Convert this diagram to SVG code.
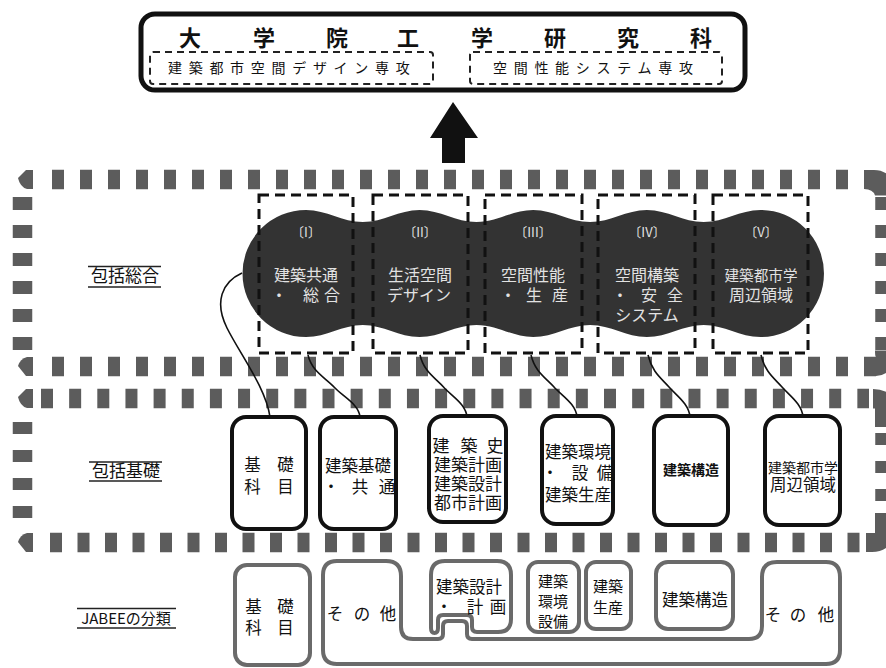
<svg xmlns="http://www.w3.org/2000/svg" width="886" height="668" viewBox="0 0 886 668">
<style>
.band{fill:none;stroke:#5c5c5c;stroke-width:19.5}
.wedge{fill:#5c5c5c}
.mid{fill:#fff;stroke:#111;stroke-width:4}
.jab{fill:#fff;stroke:#6a6a6a;stroke-width:4}
.dbox{fill:none;stroke:#111;stroke-width:3;stroke-dasharray:10 6}
.sbox{fill:none;stroke:#222;stroke-width:2;stroke-dasharray:7 5}
.conn{fill:none;stroke:#111;stroke-width:1.6}
.t{font-family:"Noto Sans CJK JP","Noto Sans",sans-serif;text-anchor:middle;fill:#111}
.w{fill:#e2e2e2}
.ul{stroke:#222;stroke-width:1.6}
</style>
<rect width="886" height="668" fill="#fff"/>

<!-- Dashed bands -->
<g id="band-sogo">
  <line class="band" x1="52" y1="179.5" x2="848" y2="179.5" stroke-dasharray="12 16"/>
  <line class="band" x1="52" y1="366.5" x2="876" y2="366.5" stroke-dasharray="12 16"/>
  <line class="band" x1="22.5" y1="197" x2="22.5" y2="350" stroke-width="21" stroke-dasharray="13 15"/>
  <line class="band" x1="885" y1="197" x2="885" y2="350" stroke-width="21" stroke-dasharray="13 15"/>
  <path class="wedge" d="M33,170 H26 L18,178 Q20,187 27,189 H33 Z"/>
  <path class="wedge" d="M33,357 H27 Q20,359 18,366 L26,376 H33 Z"/>
  <path class="wedge" d="M864,170 H874 Q889,170 895,185.5 V195.5 H875 Q873,189 864,189 Z"/>
  <path class="wedge" d="M876,376 Q889,376 895,360.5 V350.5 H875 Q875,357 876,357 Z"/>
</g>
<g id="band-kiso">
  <line class="band" x1="41" y1="398.5" x2="869" y2="398.5" stroke-dasharray="12 16.15"/>
  <line class="band" x1="50" y1="542.5" x2="860" y2="542.5" stroke-dasharray="12 15.5"/>
  <line class="band" x1="22.5" y1="422" x2="22.5" y2="518" stroke-width="21" stroke-dasharray="12 16"/>
  <line class="band" x1="885" y1="433" x2="885" y2="501" stroke-width="21" stroke-dasharray="12 16"/>
  <path class="wedge" d="M33,389 H26 L18,397 Q20,406 27,408 H33 Z"/>
  <path class="wedge" d="M33,533 H27 Q20,535 18,542 L26,552 H33 Z"/>
  <path class="wedge" d="M873,389 Q886,389 895,398 V427 H875 V408.5 H873 Z"/>
  <path class="wedge" d="M875,513 H895 V535 Q889,552 872,552 H866 V533 H875 Z"/>
</g>

<!-- Top box -->
<g id="graduate">
  <rect x="141" y="14" width="604" height="76" rx="14" fill="#fff" stroke="#111" stroke-width="5"/>
  <text class="t" x="190 264 337 408 482 555 628 701" y="45.5" font-size="22" font-weight="bold">大学院工学研究科</text>
  <rect class="sbox" x="150" y="52" width="283" height="32" rx="3"/>
  <rect class="sbox" x="470" y="52" width="252" height="32" rx="3"/>
  <text class="t" x="168" y="73.3" font-size="14" letter-spacing="6.7" style="text-anchor:start">建築都市空間デザイン専攻</text>
  <text class="t" x="493" y="73.3" font-size="14" letter-spacing="6.7" style="text-anchor:start">空間性能システム専攻</text>
</g>
<g id="arrow">
  <polygon points="453,102 478,138 465,138 465,163 442,163 442,138 430,138" fill="#111"/>
</g>

<!-- Blob -->
<g id="blob">
  <path fill="#333" d="M306,210 C327,210 341.8,222 362.8,222 S398.6,210 419.6,210 S455.4,222 476.4,222 S512.2,210 533.2,210 S569.1,222 590.1,222 S625.9,210 646.9,210 S682.7,222 703.7,222 S739.5,210 760.5,210 A63.5,63.5 0 0 1 760.5,337 C739.5,337 724.7,325 703.7,325 S667.9,337 646.9,337 S611.1,325 590.1,325 S554.2,337 533.2,337 S497.4,325 476.4,325 S440.6,337 419.6,337 S383.8,325 362.8,325 S327,337 306,337 A63.5,63.5 0 0 1 306,210 Z"/>
</g>
<g id="area-1">
  <rect class="dbox" x="259" y="195" width="94" height="158"/>
  <text class="t w" x="306" y="237" font-size="13">〔I〕</text>
  <text class="t w" x="306" y="280.8" font-size="16">建築共通</text>
  <text class="t w" x="279 311 332" y="300.8" font-size="16">・総合</text>
</g>
<g id="area-2">
  <rect class="dbox" x="373" y="195" width="95" height="158"/>
  <text class="t w" x="420" y="237" font-size="13">〔II〕</text>
  <text class="t w" x="420" y="280.8" font-size="16">生活空間</text>
  <text class="t w" x="419" y="300.8" font-size="16">デザイン</text>
</g>
<g id="area-3">
  <rect class="dbox" x="485" y="195" width="97" height="158"/>
  <text class="t w" x="533" y="237" font-size="13">〔III〕</text>
  <text class="t w" x="533" y="280.8" font-size="16">空間性能</text>
  <text class="t w" x="508 534 560" y="300.8" font-size="16">・生産</text>
</g>
<g id="area-4">
  <rect class="dbox" x="598" y="195" width="97" height="158"/>
  <text class="t w" x="647" y="237" font-size="13">〔IV〕</text>
  <text class="t w" x="647" y="280.8" font-size="16">空間構築</text>
  <text class="t w" x="620 649 675" y="300.8" font-size="16">・安全</text>
  <text class="t w" x="647" y="320.8" font-size="16">システム</text>
</g>
<g id="area-5">
  <rect class="dbox" x="713" y="195" width="95" height="158"/>
  <text class="t w" x="761" y="237" font-size="13">〔V〕</text>
  <text class="t w" x="761" y="280.8" font-size="14.6">建築都市学</text>
  <text class="t w" x="761" y="300.8" font-size="16">周辺領域</text>
</g>

<!-- Row labels -->
<g id="label-sogo">
  <line class="ul" x1="88" y1="266.5" x2="161" y2="266.5"/>
  <line class="ul" x1="88" y1="287" x2="161" y2="287"/>
  <text class="t" x="125" y="282" font-size="17">包括総合</text>
</g>
<g id="label-kiso">
  <line class="ul" x1="89" y1="462" x2="162" y2="462"/>
  <line class="ul" x1="89" y1="481" x2="162" y2="481"/>
  <text class="t" x="126" y="477" font-size="17">包括基礎</text>
</g>
<g id="label-jabee">
  <line class="ul" x1="77" y1="608.5" x2="176" y2="608.5"/>
  <line class="ul" x1="77" y1="628" x2="176" y2="628"/>
  <text class="t" x="126" y="623.5" font-size="15">JABEEの分類</text>
</g>

<!-- Connectors -->
<g id="connectors">
  <path class="conn" d="M242,273 C222,282 214,302 227,328 C240,354 266,388 270,417"/>
  <path class="conn" d="M308,355 C312,372 326,378 334,387 S359,404 360,417"/>
  <path class="conn" d="M420,355 C424,372 435.5,378 443.5,387 S466,404 467,417"/>
  <path class="conn" d="M531,355 C535,372 546,378 554,387 S576,404 577,417"/>
  <path class="conn" d="M648,355 C652,372 661,378 669,387 S689,404 690,417"/>
  <path class="conn" d="M761,355 C765,372 774,378 782,387 S802,404 803,417"/>
</g>

<!-- Middle row -->
<g id="kiso-1">
  <rect class="mid" x="232" y="417" width="74" height="112" rx="14"/>
  <text class="t" x="252.5 285.5" y="471" font-size="16.5">基礎</text>
  <text class="t" x="252.5 285.5" y="493" font-size="16.5">科目</text>
</g>
<g id="kiso-2">
  <rect class="mid" x="320" y="417" width="76" height="112" rx="14"/>
  <text class="t" x="358" y="472" font-size="16.5">建築基礎</text>
  <text class="t" x="331 360 387" y="493" font-size="16.5">・共通</text>
</g>
<g id="kiso-3">
  <rect class="mid" x="429" y="416" width="77" height="106" rx="14"/>
  <text class="t" x="441 469 495" y="452" font-size="17">建築史</text>
  <text class="t" x="468" y="471" font-size="17">建築計画</text>
  <text class="t" x="468" y="490" font-size="17">建築設計</text>
  <text class="t" x="468" y="509" font-size="17">都市計画</text>
</g>
<g id="kiso-4">
  <rect class="mid" x="542" y="416" width="71" height="108" rx="14"/>
  <text class="t" x="578" y="458" font-size="16.5">建築環境</text>
  <text class="t" x="550 580 605" y="479" font-size="16.5">・設備</text>
  <text class="t" x="578" y="501" font-size="16.5">建築生産</text>
</g>
<g id="kiso-5">
  <rect class="mid" x="654" y="416" width="74" height="109" rx="14"/>
  <text class="t" x="691" y="475" font-size="14" font-weight="bold">建築構造</text>
</g>
<g id="kiso-6">
  <rect class="mid" x="765" y="416" width="75" height="109" rx="14"/>
  <text class="t" x="803" y="473" font-size="14">建築都市学</text>
  <text class="t" x="803" y="491" font-size="16.5">周辺領域</text>
</g>

<!-- JABEE row -->
<g id="jabee-kiso">
  <rect class="jab" x="235" y="565" width="75" height="100" rx="12"/>
  <text class="t" x="253.5 285.5" y="613" font-size="16.5">基礎</text>
  <text class="t" x="253.5 285.5" y="634" font-size="16.5">科目</text>
</g>
<g id="jabee-sonota">
  <path class="jab" d="M337,561 H386 Q401,561 401,576 V627 Q401,639 413,639 H438 Q443,639 443,634 V626 Q443,621 448,621 H462 Q467,621 467,626 V634 Q467,639 472,639 H749 Q762,639 762,626 V577 Q762,562 777,562 H826 Q840,562 840,577 V650 Q840,664 826,664 H337 Q323,664 323,650 V575 Q323,561 337,561 Z"/>
  <text class="t" x="335 362 388" y="620" font-size="16.5">その他</text>
  <text class="t" x="773 798 826" y="621" font-size="16.5">その他</text>
</g>
<g id="jabee-sekkei">
  <path class="jab" d="M431,575 Q431,561 445,561 H497 Q511,561 511,575 V619 Q511,632 498,632 H477 Q472,632 472,627 V620 Q472,615 467,615 H443 Q438,615 438,620 V628 Q438,633 434.5,633 Q431,633 431,628 Z"/>
  <text class="t" x="469" y="593" font-size="16.5">建築設計</text>
  <text class="t" x="444 475 498" y="613" font-size="16.5">・計画</text>
</g>
<g id="jabee-kankyo">
  <rect class="jab" x="528" y="562" width="51" height="70" rx="10"/>
  <text class="t" x="553" y="587.4" font-size="15">建築</text>
  <text class="t" x="553" y="607.4" font-size="15">環境</text>
  <text class="t" x="553" y="627.4" font-size="15">設備</text>
</g>
<g id="jabee-seisan">
  <rect class="jab" x="586" y="562" width="45" height="67" rx="10"/>
  <text class="t" x="608" y="592.4" font-size="15">建築</text>
  <text class="t" x="608" y="613.4" font-size="15">生産</text>
</g>
<g id="jabee-kozo">
  <rect class="jab" x="656" y="562" width="77" height="67" rx="12"/>
  <text class="t" x="695" y="606" font-size="16.5">建築構造</text>
</g>
</svg>
